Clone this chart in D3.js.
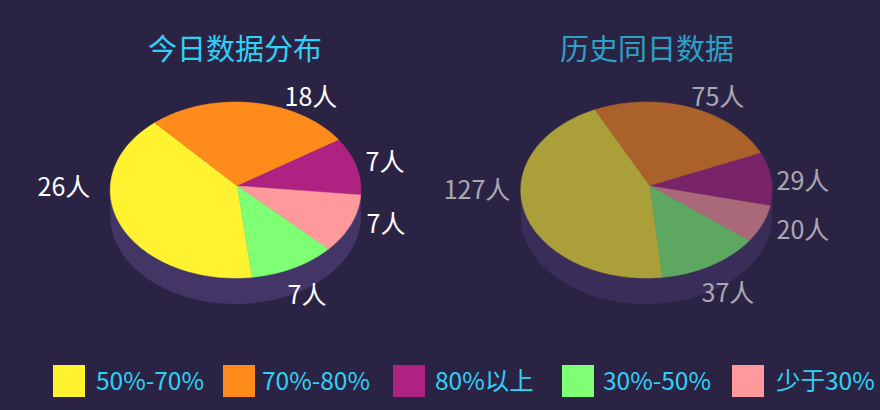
<!DOCTYPE html>
<html>
<head>
<meta charset="utf-8">
<title>今日数据分布</title>
<script src="https://cdn.jsdelivr.net/npm/d3@7"></script>
<style>
html,body{margin:0;padding:0;background:#2b2344;}
svg{display:block;}
text{font-family:"Noto Sans CJK SC","Noto Sans",sans-serif;font-weight:400;}
</style>
</head>
<body>
<div id="chart"></div>
<script>
// values, in legend order
var categories=["50%-70%","70%-80%","80%以上","30%-50%","少于30%"];
var colors=["#fff231","#ff8c1a","#ae2382","#7fff74","#ff999c"];
var todayValues=[26,18,7,7,7];
var historyValues=[127,75,29,37,20];
var titles=["今日数据分布","历史同日数据"];
// slices run clockwise in this order, the legend order is different
var sliceOrder=[0,1,2,4,3];

var svg=d3.select("#chart").append("svg").attr("width",880).attr("height",410);

// the discs are tilted, so a unit circle goes through a small perspective
function projector(p){
	var x=d3.scaleLinear().domain([0,1]).range([p.cx,p.cx+p.rx]);
	var y=d3.scaleLinear().domain([0,1]).range([p.cy,p.cy+p.ry]);
	return function(a,r){
		var u=Math.sin(a)*r,v=-Math.cos(a)*r;
		var w=1-0.0455*v-p.skew*u;
		return [x(u/w),y(v/w)];
	};
}

function drawPie(values,p){
	var g=svg.append("g").attr("opacity",p.opacity);
	var proj=projector(p);
	var line=d3.line();
	var rim=d3.range(0,360,2).map(function(d){return proj(d*Math.PI/180,1);});
	var lowered=rim.map(function(d){return [d[0],d[1]+p.depth];});

	g.append("path")
		.attr("d",line(d3.polygonHull(rim.concat(lowered)))+"Z")
		.attr("fill","#433667");

	var pie=d3.pie().sort(null)
		.startAngle(p.start*Math.PI/180)
		.endAngle((p.start+360)*Math.PI/180);
	var arcs=pie(sliceOrder.map(function(i){return values[i];}));

	g.selectAll("path.slice").data(arcs).enter().append("path")
		.attr("class","slice")
		.attr("fill",function(d,i){return colors[sliceOrder[i]];})
		.attr("stroke",function(d,i){return colors[sliceOrder[i]];})
		.attr("stroke-width",0.5)
		.attr("d",function(d){
			var pts=[proj(0,0)];
			var n=Math.ceil((d.endAngle-d.startAngle)/0.02);
			d3.range(n+1).forEach(function(k){
				pts.push(proj(d.startAngle+(d.endAngle-d.startAngle)*k/n,1));
			});
			return line(pts)+"Z";
		});

	g.selectAll("text.lab").data(arcs).enter().append("text")
		.attr("class","lab")
		.attr("x",function(d,i){return p.labels[i][0];})
		.attr("y",function(d,i){return p.labels[i][1];})
		.attr("text-anchor","middle")
		.attr("font-size",25)
		.attr("fill","#fff")
		.text(function(d){return d.value+"人";});

	svg.append("text")
		.attr("x",p.titleX).attr("y",60)
		.attr("text-anchor","middle")
		.attr("font-size",29)
		.attr("fill","#2fd2f7")
		.attr("opacity",p.titleOpacity)
		.text(p.title);
}

drawPie(todayValues,{
	cx:237.3,cy:186,rx:125.2,ry:87.8,skew:-0.0135,depth:26,start:-186.5,opacity:1,
	title:titles[0],titleX:235,titleOpacity:1,
	labels:[[64,196],[311,106],[385,171],[386,233],[307,304]]
});
drawPie(historyValues,{
	cx:650,cy:186,rx:125.5,ry:87.8,skew:-0.028,depth:26,start:-185.5,opacity:0.6,
	title:titles[1],titleX:647,titleOpacity:0.72,
	labels:[[477,199],[718,106],[803,190],[803,239],[728,302]]
});

// legend
var legendX=[53,223,393,562,732];
var legendTextX=[96,262,435,603,776];
var legend=svg.selectAll("g.legend").data(categories).enter().append("g").attr("class","legend");
legend.append("rect")
	.attr("x",function(d,i){return legendX[i];})
	.attr("y",365).attr("width",32).attr("height",32)
	.attr("fill",function(d,i){return colors[i];});
legend.append("text")
	.attr("x",function(d,i){return legendTextX[i];})
	.attr("y",390)
	.attr("font-size",24.5)
	.attr("fill","#2fd2f7")
	.text(function(d){return d;});
</script>
</body>
</html>
